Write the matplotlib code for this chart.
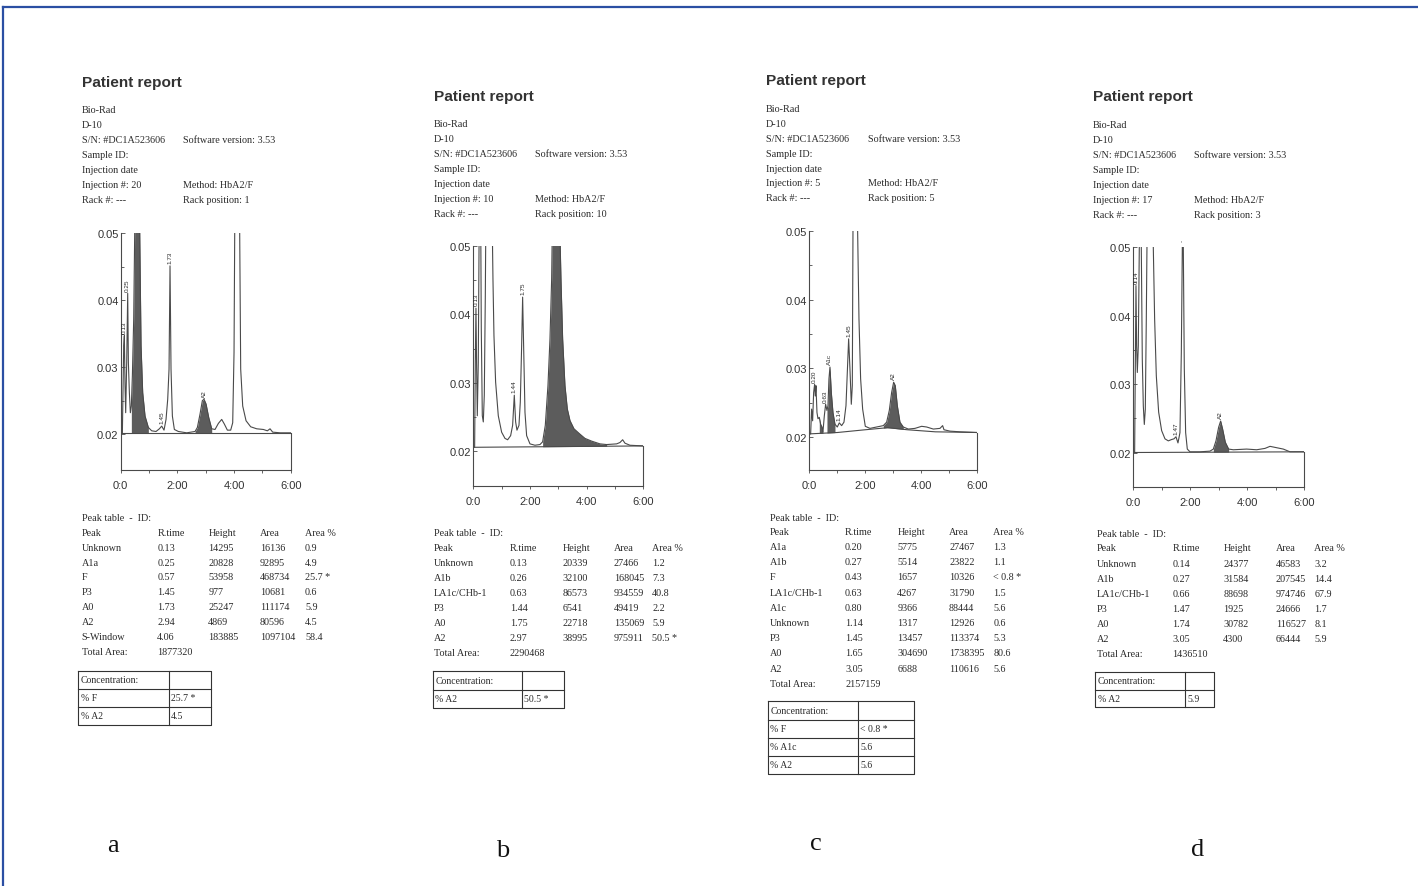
import matplotlib
matplotlib.use("Agg")
import matplotlib.pyplot as plt
import numpy as np

W, H = 1418, 887

# ---- chromatogram traces (time in min, absorbance) ----
t_a = [0, .059, .106, .129, .153, .176, .212, .247, .271, .306, .341, .376, .412, .459, .494, .518,
       .635, .671, .718, .776, .859, .976, 1.094, 1.247, 1.365, 1.447, 1.529, 1.60, 1.659, 1.706,
       1.741, 1.776, 1.824, 1.894, 2.035, 2.329, 2.624, 2.706, 2.80, 2.882, 2.941, 3.012, 3.106,
       3.212, 3.329, 3.447, 3.565, 3.659, 3.765, 3.882, 3.953, 4.0, 4.024, 4.035, 4.176, 4.20,
       4.235, 4.306, 4.424, 4.588, 4.80, 5.035, 5.176, 5.271, 5.365, 5.624, 6.0]
v_a = [.02025, .0202, .0332, .0347, .0272, .0232, .0307, .0410, .0307, .0262, .0232, .0242, .0287,
       .0372, .050, .057, .057, .050, .0332, .0262, .0227, .0210, .0205, .0204, .0208, .0212, .0206,
       .0222, .0252, .0297, .0451, .0297, .0227, .0207, .0204, .0202, .0204, .0210, .0230, .0250,
       .0252, .0245, .0225, .0208, .0207, .0216, .0222, .0215, .0206, .0206, .0217, .0322, .050,
       .057, .057, .050, .0297, .0242, .0220, .0211, .0208, .0207, .0205, .0208, .0203, .0202, .0202]

t_b = [0, .047, .071, .094, .118, .141, .176, .212, .259, .282, .318, .353, .388, .424, .447, .659,
       .694, .729, .788, .882, 1.0, 1.118, 1.212, 1.318, 1.388, 1.447, 1.494, 1.541, 1.612, 1.659,
       1.706, 1.741, 1.776, 1.824, 1.882, 2.0, 2.176, 2.353, 2.447, 2.541, 2.635, 2.706, 2.765, 2.80,
       3.035, 3.094, 3.153, 3.235, 3.318, 3.412, 3.553, 3.741, 3.941, 4.176, 4.471, 4.706, 5.059,
       5.176, 5.271, 5.353, 5.529, 6.0]
v_b = [.0206, .0206, .0330, .0409, .0320, .0252, .0330, .056, .056, .0379, .0252, .0243, .0282,
       .0427, .056, .056, .0451, .0369, .0301, .0252, .0228, .0219, .0217, .0223, .0238, .0282,
       .0243, .0231, .0238, .0272, .0354, .0425, .0354, .0257, .0223, .0211, .0209, .0210, .0214,
       .0238, .0296, .0364, .0451, .056, .056, .0451, .0364, .0296, .0262, .0245, .0233, .0226,
       .0219, .0215, .0211, .0210, .0211, .0213, .0217, .0212, .0209, .0208]

t_c = [0, .048, .083, .119, .155, .190, .214, .238, .274, .310, .357, .405, .452, .488, .536, .583,
       .631, .667, .702, .738, .786, .845, .917, 1.0, 1.071, 1.155, 1.238, 1.31, 1.357, 1.405,
       1.452, 1.50, 1.536, 1.56, 1.571, 1.702, 1.726, 1.774, 1.833, 1.905, 2.0, 2.167, 2.405,
       2.643, 2.762, 2.857, 2.94, 3.012, 3.071, 3.143, 3.238, 3.357, 3.536, 3.774, 4.012, 4.19,
       4.429, 4.667, 4.762, 4.81, 5.024, 5.381, 6.0]
v_c = [.0205, .0205, .0241, .0224, .0265, .0277, .0260, .0275, .0236, .0227, .0229, .0219, .0215,
       .0208, .0231, .0248, .0239, .0246, .0285, .0302, .0265, .0236, .0219, .0215, .0221, .0217,
       .0222, .0246, .0294, .0343, .0299, .0248, .0275, .050, .056, .056, .050, .0372, .0285,
       .0241, .0216, .0213, .0215, .0217, .0222, .0239, .0265, .0280, .0275, .0246, .0222, .0215,
       .0212, .0213, .0216, .0215, .0212, .0213, .0217, .0211, .0209, .0208, .0207]

t_d = [0, .047, .070, .094, .117, .141, .176, .211, .223, .27, .281, .316, .352, .387, .422, .457,
       .48, .492, .68, .703, .75, .809, .891, .996, 1.113, 1.23, 1.348, 1.43, 1.50, 1.57, 1.64,
       1.688, 1.723, 1.734, 1.758, 1.793, 1.84, 1.898, 1.992, 2.344, 2.695, 2.813, 2.906, 3.0,
       3.07, 3.141, 3.234, 3.352, 3.516, 3.984, 4.336, 4.629, 4.805, 5.039, 5.273, 5.508, 6.0]
v_d = [.0200, .0200, .0322, .0444, .0356, .0317, .0356, .050, .056, .056, .050, .0337, .0268,
       .0241, .0263, .0395, .050, .056, .056, .050, .0395, .0312, .0259, .0232, .0220, .0217,
       .0219, .0220, .0223, .0214, .0229, .0346, .050, .056, .050, .0322, .0229, .0205, .0201,
       .0201, .0202, .0205, .0217, .0237, .0246, .0234, .0215, .0205, .0204, .0205, .0204, .0206,
       .0209, .0207, .0205, .0201, .0201]

# integration baselines
base_t_a, base_v_a = [0, 6], [.0202, .0202]
base_t_b, base_v_b = [0, 6], [.0206, .0208]
base_t_c, base_v_c = [0, 1.0, 2.0, 2.8, 3.5, 4.5, 6.0], [.0205, .0207, .0211, .0214, .0211, .0208, .0207]
base_t_d, base_v_d = [0, 6], [.0200, .0201]

# shaded peaks (start, end in min)
shade_a = [(.376, .976), (2.624, 3.212)]
shade_b = [(2.447, 4.706)]
shade_c = [(.357, .488), (.631, .917), (2.643, 3.357)]
shade_d = [(2.813, 3.352)]

# peak labels (text, time, apex)
lab_a = [("0.13", .129, .0347), ("0.25", .247, .0410), ("1.45", 1.447, .0212),
         ("1.73", 1.741, .0451), ("A2", 2.941, .0252)]
lab_b = [("0.13", .094, .0409), ("1.44", 1.447, .0282), ("1.75", 1.741, .0425)]
lab_c = [("0.20", .19, .0277), ("0.63", .583, .0248), ("A1c", .738, .0302),
         ("1.14", 1.071, .0221), ("1.45", 1.405, .0343), ("A2", 3.012, .0280)]
lab_d = [("0.14", .094, .0444), ("1.47", 1.50, .0223), ("-", 1.723, .0505), ("A2", 3.07, .0246)]

# ---- peak tables ----
peak_a = ["Unknown", "A1a", "F", "P3", "A0", "A2", "S-Window"]
rt_a = ["0.13", "0.25", "0.57", "1.45", "1.73", "2.94", "4.06"]
ht_a = ["14295", "20828", "53958", "977", "25247", "4869", "183885"]
ar_a = ["16136", "92895", "468734", "10681", "111174", "80596", "1097104"]
pc_a = ["0.9", "4.9", "25.7 *", "0.6", "5.9", "4.5", "58.4"]
total_a = "1877320"
conc_a = [("% F", "25.7 *"), ("% A2", "4.5")]

peak_b = ["Unknown", "A1b", "LA1c/CHb-1", "P3", "A0", "A2"]
rt_b = ["0.13", "0.26", "0.63", "1.44", "1.75", "2.97"]
ht_b = ["20339", "32100", "86573", "6541", "22718", "38995"]
ar_b = ["27466", "168045", "934559", "49419", "135069", "975911"]
pc_b = ["1.2", "7.3", "40.8", "2.2", "5.9", "50.5 *"]
total_b = "2290468"
conc_b = [("% A2", "50.5 *")]

peak_c = ["A1a", "A1b", "F", "LA1c/CHb-1", "A1c", "Unknown", "P3", "A0", "A2"]
rt_c = ["0.20", "0.27", "0.43", "0.63", "0.80", "1.14", "1.45", "1.65", "3.05"]
ht_c = ["5775", "5514", "1657", "4267", "9366", "1317", "13457", "304690", "6688"]
ar_c = ["27467", "23822", "10326", "31790", "88444", "12926", "113374", "1738395", "110616"]
pc_c = ["1.3", "1.1", "< 0.8 *", "1.5", "5.6", "0.6", "5.3", "80.6", "5.6"]
total_c = "2157159"
conc_c = [("% F", "< 0.8 *"), ("% A1c", "5.6"), ("% A2", "5.6")]

peak_d = ["Unknown", "A1b", "LA1c/CHb-1", "P3", "A0", "A2"]
rt_d = ["0.14", "0.27", "0.66", "1.47", "1.74", "3.05"]
ht_d = ["24377", "31584", "88698", "1925", "30782", "4300"]
ar_d = ["46583", "207545", "974746", "24666", "116527", "66444"]
pc_d = ["3.2", "14.4", "67.9", "1.7", "8.1", "5.9"]
total_d = "1436510"
conc_d = [("% A2", "5.9")]

injection = ["20", "10", "5", "17"]
rack_pos = ["1", "10", "5", "3"]
panel_letters = ["a", "b", "c", "d"]

LINE = "#4a4a4a"
FILL = "#5c5c5c"
TXT = "#2a2a2a"
SERIF = ["Liberation Serif", "DejaVu Serif"]
SANS = ["Liberation Sans", "DejaVu Sans"]

fig = plt.figure(figsize=(W / 100, H / 100), dpi=100)
bg = fig.add_axes([0, 0, 1, 1])
bg.set_xlim(0, W)
bg.set_ylim(H, 0)
bg.axis("off")

# blue frame of the figure page
bg.plot([2.7, W], [8.3, 8.3], color="#2b4fa3", lw=1.6)
bg.plot([2.7, 2.7], [8.3, H], color="#2b4fa3", lw=1.6)


def txt(x, y, s, size=7.3, **kw):
    kw.setdefault("family", SERIF)
    bg.text(x, y, s, fontsize=size, color=TXT, va="center", ha="left", **kw)


def header(x, ty, y0, step, x2, inj, rack):
    bg.text(x, ty, "Patient report", fontsize=11.1, fontweight="bold", family=SANS,
            color="#333333", va="center", ha="left")
    left = ["Bio-Rad", "D-10", "S/N: #DC1A523606", "Sample ID:", "Injection date",
            "Injection #: " + inj, "Rack #: ---"]
    right = {2: "Software version: 3.53", 5: "Method: HbA2/F", 6: "Rack position: " + rack}
    for i, s in enumerate(left):
        txt(x, y0 + i * step, s)
        if i in right:
            txt(x2, y0 + i * step, right[i])


def chart(l, t, r, b, ymin, tt, vv, bt, bv, shade, labels):
    ax = fig.add_axes([l / W, 1 - b / H, (r - l) / W, (b - t) / H])
    ax.set_xlim(0, 6)
    ax.set_ylim(ymin, 0.05)
    ax.patch.set_alpha(0)
    for s in ["top", "right"]:
        ax.spines[s].set_visible(False)
    for s in ["left", "bottom"]:
        ax.spines[s].set_color(LINE)
        ax.spines[s].set_linewidth(0.8)
    tt = np.array(tt)
    vv = np.array(vv)
    for s0, s1 in shade:
        m = (tt >= s0) & (tt <= s1)
        ax.fill_between(tt[m], vv[m], np.interp(tt[m], bt, bv), color=FILL, lw=0)
    ax.plot(bt, bv, color=LINE, lw=0.8)
    ax.plot([6, 6], [ymin, bv[-1]], color=LINE, lw=0.8, clip_on=False)
    ax.plot(tt, vv, color=LINE, lw=0.8)
    for name, x, y in labels:
        ax.text(x, y + 0.0004, name, rotation=90, fontsize=4.6, family=SANS, color=TXT,
                ha="center", va="bottom", clip_on=False)
    ax.set_yticks([0.02, 0.03, 0.04, 0.05])
    ax.set_yticklabels(["0.02", "0.03", "0.04", "0.05"])
    ax.set_yticks([0.025, 0.035, 0.045], minor=True)
    ax.set_xticks([0, 2, 4, 6])
    ax.set_xticklabels(["0:0", "2:00", "4:00", "6:00"])
    ax.set_xticks([1, 3, 5], minor=True)
    ax.tick_params(axis="y", which="both", direction="in", length=3, width=0.6,
                   color=LINE, labelsize=8, labelcolor="#333333", pad=1.5)
    ax.tick_params(axis="y", which="minor", length=2)
    ax.tick_params(axis="x", which="both", direction="out", length=2.5, width=0.6,
                   color=LINE, labelsize=8, labelcolor="#333333", pad=5)
    for lab in ax.get_xticklabels() + ax.get_yticklabels():
        lab.set_family(SANS)


def table(x0, ty, hy, step, cols, peaks, rts, hts, ars, pcs, total, box, conc):
    txt(x0, ty, "Peak table  -  ID:")
    for c, s in zip(cols, ["Peak", "R.time", "Height", "Area", "Area %"]):
        txt(c, hy, s)
    for i, row in enumerate(zip(peaks, rts, hts, ars, pcs)):
        for c, s in zip(cols, row):
            txt(c, hy + (i + 1) * step, s)
    txt(x0, hy + (len(peaks) + 1) * step, "Total Area:")
    txt(cols[1], hy + (len(peaks) + 1) * step, total)
    bl, bd, br, btop, rh = box
    rows = [("Concentration:", "")] + conc
    n = len(rows)
    kw = dict(color="#333333", lw=0.8)
    bg.plot([bl, br, br, bl, bl], [btop, btop, btop + n * rh, btop + n * rh, btop], **kw)
    bg.plot([bd, bd], [btop, btop + n * rh], **kw)
    for i, (k, v) in enumerate(rows):
        if i:
            bg.plot([bl, br], [btop + i * rh, btop + i * rh], **kw)
        txt(bl + 2.5, btop + (i + 0.5) * rh, k, size=7)
        txt(bd + 2, btop + (i + 0.5) * rh, v, size=7)


# panel a
header(82, 82.7, 110.7, 15, 183.3, injection[0], rack_pos[0])
chart(120.7, 234, 290.7, 470.7, 0.0147, t_a, v_a, base_t_a, base_v_a, shade_a, lab_a)
table(81.7, 519, 533.3, 14.9, [81.7, 157.3, 208.3, 260, 305], peak_a, rt_a, ht_a, ar_a, pc_a,
      total_a, (78.3, 169, 210.7, 671.7, 18), conc_a)

# panel b
header(434, 96.7, 124.3, 15, 535, injection[1], rack_pos[1])
chart(473.3, 246.7, 643.3, 486.7, 0.0150, t_b, v_b, base_t_b, base_v_b, shade_b, lab_b)
table(434, 534, 548.3, 15, [434, 510, 562.3, 614, 652.3], peak_b, rt_b, ht_b, ar_b, pc_b,
      total_b, (432.7, 521.7, 564.3, 672.3, 18.3), conc_b)

# panel c
header(766, 81, 110, 14.8, 868, injection[2], rack_pos[2])
chart(809.3, 231.7, 977.3, 470.7, 0.0153, t_c, v_c, base_t_c, base_v_c, shade_c, lab_c)
table(770, 519, 532.3, 15.2, [770, 845, 897.3, 949, 993.3], peak_c, rt_c, ht_c, ar_c, pc_c,
      total_c, (767.7, 858.3, 914, 702.3, 18.2), conc_c)

# panel d
header(1092.7, 96.7, 125.7, 15, 1194, injection[3], rack_pos[3])
chart(1133.3, 248.3, 1304, 487.7, 0.0150, t_d, v_d, base_t_d, base_v_d, shade_d, lab_d)
table(1096.7, 534.3, 549, 15.05, [1096.7, 1172.3, 1223.3, 1275.7, 1314.3], peak_d, rt_d, ht_d,
      ar_d, pc_d, total_d, (1095, 1185, 1214, 672.7, 17.8), conc_d)

for (x, y), s in zip([(113, 846), (503, 851), (816, 844), (1198, 850)], panel_letters):
    bg.text(x, y, s, fontsize=19, family=SERIF, color="#111111", ha="center", va="center")

fig.savefig("out.png", dpi=100)
